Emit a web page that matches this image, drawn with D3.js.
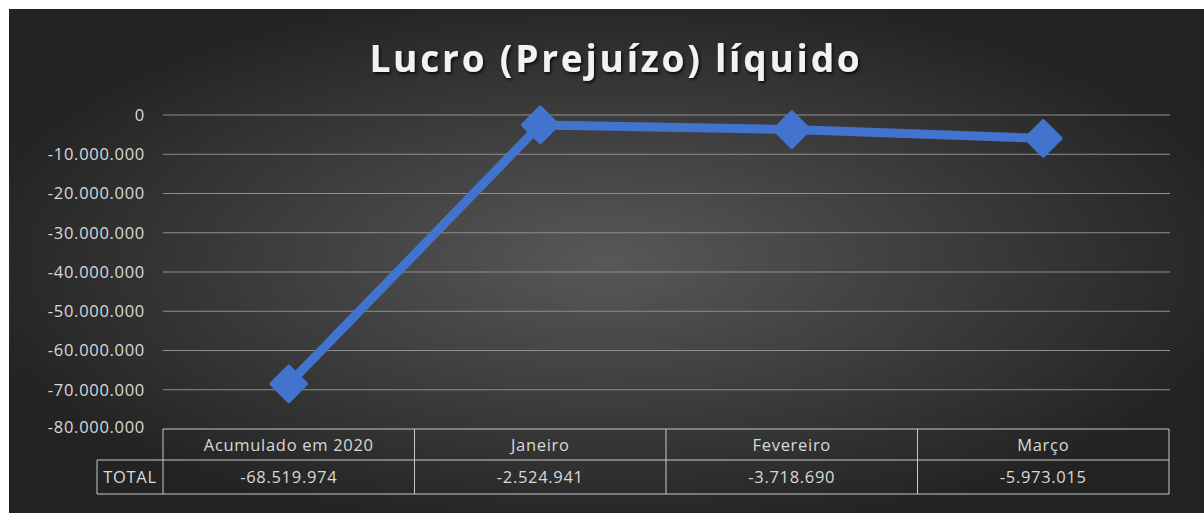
<!DOCTYPE html>
<html><head><meta charset="utf-8">
<script src="https://cdn.jsdelivr.net/npm/d3@7"></script>
<style>html,body{margin:0;padding:0;background:#fff;}svg{display:block;}</style>
</head><body>
<script>
const categories = ["Acumulado em 2020", "Janeiro", "Fevereiro", "Março"];
const values = [-68519974, -2524941, -3718690, -5973015];
const valueLabels = ["-68.519.974", "-2.524.941", "-3.718.690", "-5.973.015"];
const yTicks = [0, -10000000, -20000000, -30000000, -40000000, -50000000, -60000000, -70000000, -80000000];
const seriesName = "TOTAL";
const title = "Lucro (Prejuízo) líquido";

const W = 1204, H = 513;
const svg = d3.select("body").append("svg").attr("width", W).attr("height", H);
const defs = svg.append("defs");
const rg = defs.append("radialGradient").attr("id","bg").attr("cx","50%").attr("cy","50%").attr("r","55%");
rg.append("stop").attr("offset","0%").attr("stop-color","#585858");
rg.append("stop").attr("offset","100%").attr("stop-color","#232323");
const f = defs.append("filter").attr("id","sh").attr("x","-10%").attr("y","-30%").attr("width","120%").attr("height","160%");
f.append("feDropShadow").attr("dx",1.5).attr("dy",2).attr("stdDeviation",1.5).attr("flood-color","#000").attr("flood-opacity",0.8);

svg.append("rect").attr("x",9).attr("y",9).attr("width",W-9).attr("height",H-9).attr("fill","url(#bg)");

const fmt = v => v === 0 ? "0" : d3.format(",")(v).replace(/,/g, ".").replace("−","-");

const x0 = 163, x1 = 1169;
const x = d3.scaleBand().domain(categories).range([x0, x1]);
const y = d3.scaleLinear().domain([-80000000, 0]).range([429, 115]);
const tf = "'Open Sans', sans-serif";
const fs = 16.5, ls = 0.7, tc = "#d9d9d9";

// gridlines
svg.append("g").selectAll("line").data(yTicks.filter(t => t > -80000000)).join("line")
  .attr("x1", x0).attr("x2", 1170).attr("y1", d => y(d)).attr("y2", d => y(d))
  .attr("stroke", "#8f8f8f").attr("stroke-width", 1.2);

// y axis labels
const yAxis = d3.axisLeft(y).tickValues(yTicks).tickFormat(fmt).tickSize(0).tickPadding(0);
const ga = svg.append("g").attr("transform", "translate(145,0)").call(yAxis);
ga.select(".domain").remove();
ga.selectAll("text").attr("fill", tc).attr("font-family", tf).attr("font-size", fs).attr("letter-spacing", ls);
ga.selectAll(".tick").filter(d => d === -80000000).attr("transform", "translate(0," + (y(-80000000) - 1) + ")");

// line
const line = d3.line().x((d, i) => x(categories[i]) + x.bandwidth() / 2).y(d => y(d));
svg.append("path").datum(values).attr("d", line).attr("fill", "none")
  .attr("stroke", "#4274cf").attr("stroke-width", 9).attr("stroke-linejoin", "round");

// markers
const sym = d3.symbol().type(d3.symbolDiamond2).size(760);
svg.append("g").selectAll("path").data(values).join("path")
  .attr("transform", (d, i) => `translate(${x(categories[i]) + x.bandwidth() / 2},${y(d)})`)
  .attr("d", sym).attr("fill", "#4274cf").attr("stroke","#4274cf").attr("stroke-width",4).attr("stroke-linejoin","round");

// table
const tg = svg.append("g");
const r0 = 429, r1 = 460, r2 = 494;
const stroke = "#c8c8c8";
tg.append("line").attr("x1", x0).attr("x2", x1).attr("y1", r0).attr("y2", r0).attr("stroke", stroke);
tg.append("line").attr("x1", 97).attr("x2", x1).attr("y1", r1).attr("y2", r1).attr("stroke", stroke);
tg.append("line").attr("x1", 97).attr("x2", x1).attr("y1", r2).attr("y2", r2).attr("stroke", stroke);
tg.append("line").attr("x1", 97).attr("x2", 97).attr("y1", r1).attr("y2", r2).attr("stroke", stroke);
const vx = categories.map(c => x(c)).concat([x1]);
tg.selectAll("line.v").data(vx).join("line").attr("class","v")
  .attr("x1", d => d).attr("x2", d => d).attr("y1", r0).attr("y2", r2).attr("stroke", stroke);
tg.selectAll("text.c").data(categories).join("text").attr("class","c")
  .attr("x", d => x(d) + x.bandwidth() / 2).attr("y", (r0 + r1) / 2 + 1).attr("dy","0.35em")
  .attr("text-anchor", "middle").attr("fill", tc).attr("font-family", tf).attr("font-size", fs).attr("letter-spacing", ls).text(d => d);
tg.selectAll("text.v").data(valueLabels).join("text").attr("class","v")
  .attr("x", (d, i) => x(categories[i]) + x.bandwidth() / 2).attr("y", (r1 + r2) / 2).attr("dy","0.35em")
  .attr("text-anchor", "middle").attr("fill", tc).attr("font-family", tf).attr("font-size", fs).attr("letter-spacing", ls).text(d => d);
tg.append("text").attr("x", 130).attr("y", (r1 + r2) / 2).attr("dy","0.35em").attr("text-anchor", "middle")
  .attr("fill", tc).attr("font-family", tf).attr("font-size", fs).attr("letter-spacing", ls).text(seriesName);

// title
svg.append("text").attr("x", 616).attr("y", 72).attr("text-anchor", "middle")
  .attr("fill", "#f2f2f2").attr("font-family", tf).attr("font-weight", 700)
  .attr("font-size", 37).attr("letter-spacing", 2.8).attr("filter","url(#sh)").text(title);
</script>
</body></html>
